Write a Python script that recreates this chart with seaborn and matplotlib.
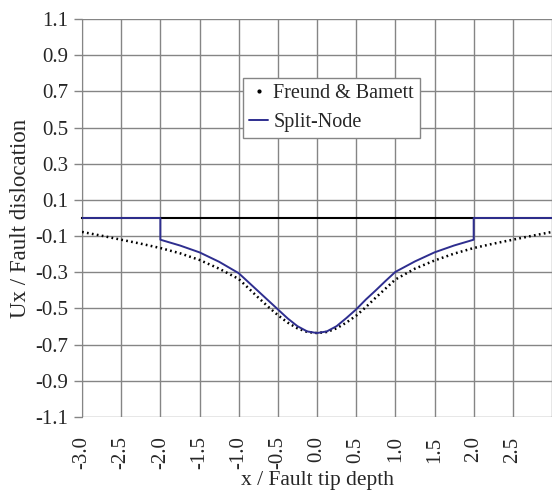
import numpy as np
import pandas as pd
import matplotlib
matplotlib.use("Agg")
import matplotlib.pyplot as plt
import seaborn as sns
from matplotlib.lines import Line2D

# Freund & Barnett analytical solution
fb_x = [-3.0, -2.75, -2.5, -2.25, -2.0, -1.75, -1.5, -1.25, -1.0, -0.875, -0.75, -0.625,
        -0.5, -0.375, -0.25, -0.125, 0.0, 0.125, 0.25, 0.375, 0.5, 0.625, 0.75, 0.875,
        1.0, 1.25, 1.5, 1.75, 2.0, 2.25, 2.5, 2.75, 3.0]
fb_u = [-0.077, -0.098, -0.12, -0.142, -0.166, -0.195, -0.232, -0.28, -0.337, -0.388, -0.44, -0.49,
        -0.537, -0.578, -0.61, -0.63, -0.636, -0.63, -0.61, -0.578, -0.54, -0.492, -0.44, -0.39,
        -0.34, -0.28, -0.235, -0.197, -0.166, -0.142, -0.12, -0.098, -0.077]

# Split-node finite element result
sn_x = [-3.0, -2.0, -2.0, -1.75, -1.5, -1.25, -1.0, -0.875, -0.75, -0.625, -0.5, -0.375,
        -0.25, -0.125, 0.0, 0.125, 0.25, 0.375, 0.5, 0.625, 0.75, 0.875, 1.0, 1.25,
        1.5, 1.75, 2.0, 2.0, 3.0]
sn_u = [0.0, 0.0, -0.12, -0.152, -0.19, -0.242, -0.305, -0.355, -0.405, -0.455, -0.505, -0.555,
        -0.598, -0.627, -0.636, -0.627, -0.598, -0.553, -0.505, -0.45, -0.4, -0.348, -0.298, -0.24,
        -0.19, -0.152, -0.12, 0.0, 0.0]

x_ticks = [-3.0, -2.5, -2.0, -1.5, -1.0, -0.5, 0.0, 0.5, 1.0, 1.5, 2.0, 2.5]
y_ticks = [1.1, 0.9, 0.7, 0.5, 0.3, 0.1, -0.1, -0.3, -0.5, -0.7, -0.9, -1.1]

sns.set_style("white")
plt.rcParams["font.family"] = ["Liberation Serif", "DejaVu Serif"]

fig = plt.figure(figsize=(5.52, 4.95), dpi=100)
ax = fig.add_axes([0.1486, 0.1576, 0.8514, 0.804])

grid_c = "#858585"
for xv in x_ticks + [3.0]:
    ax.axvline(xv, color=grid_c, lw=1.0, zorder=0)
for yv in y_ticks:
    ax.axhline(yv, color=grid_c, lw=1.0, zorder=0)

fb = pd.DataFrame({"x": fb_x, "u": fb_u})
sn = pd.DataFrame({"x": sn_x, "u": sn_u})

sns.lineplot(data=fb, x="x", y="u", ax=ax, color="black", lw=1.8,
             linestyle=(0, (0.7, 1.3)), sort=False, estimator=None, zorder=3)
sns.lineplot(data=sn, x="x", y="u", ax=ax, color="#2e2e8f", lw=1.4,
             sort=False, estimator=None, zorder=4)

ax.set_xlim(-3.0, 3.0)
ax.set_ylim(-1.1, 1.1)

# x axis line at zero with crossing ticks, labels kept at the bottom
for s in ["top", "right"]:
    ax.spines[s].set_visible(False)
ax.spines["left"].set_color(grid_c)
ax.spines["bottom"].set_position(("data", 0))
ax.spines["bottom"].set_color("black")
ax.spines["bottom"].set_linewidth(1.5)
ax.spines["bottom"].set_zorder(2)
ax.set_xticks(x_ticks)
ax.tick_params(axis="x", direction="inout", length=7, width=1.2, color="black",
               labelbottom=False)
ax.set_yticks(y_ticks)
ax.set_yticklabels([f"{v:.1f}" for v in y_ticks])
ax.tick_params(axis="y", direction="out", length=6, width=1, color=grid_c,
               labelsize=15, pad=4, left=True)

sec = ax.secondary_xaxis("bottom")
sec.set_xticks(x_ticks)
sec.set_xticklabels([f"{v:.1f}" for v in x_ticks], rotation=90)
sec.tick_params(length=0, labelsize=15, pad=14)
sec.spines["bottom"].set_visible(False)
sec.set_xlabel("x / Fault tip depth", fontsize=15.5, labelpad=1)

ax.set_xlabel("")
ax.set_ylabel("Ux / Fault dislocation", fontsize=16.5, labelpad=3)

handles = [Line2D([], [], color="black", marker=".", markersize=4, linestyle="none"),
           Line2D([], [], color="#2e2e8f", lw=1.4)]
leg = ax.legend(handles, ["Freund & Bamett", "Split-Node"], loc="upper left",
                bbox_to_anchor=(0.343, 0.852), borderaxespad=0, fontsize=14.5,
                frameon=True, fancybox=False, edgecolor=grid_c, framealpha=1,
                handlelength=0.95, handletextpad=0.25, borderpad=0.3,
                labelspacing=0.5)
leg.get_frame().set_linewidth(1.0)

fig.savefig("out.png", dpi=100)
